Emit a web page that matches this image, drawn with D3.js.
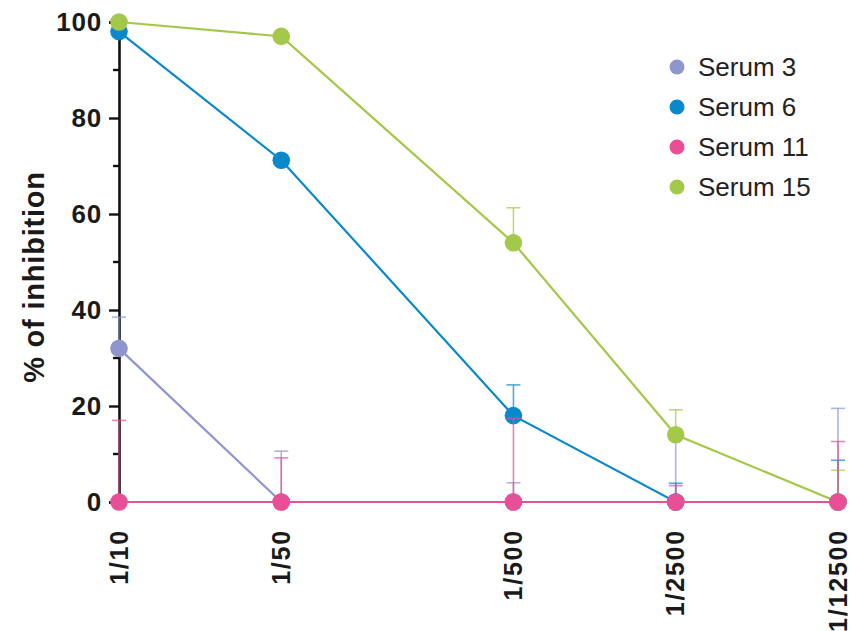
<!DOCTYPE html>
<html>
<head>
<meta charset="utf-8">
<script src="https://cdn.jsdelivr.net/npm/d3@7"></script>
<style>
  html, body { margin: 0; padding: 0; background: #fff; }
  svg { display: block; font-family: "Liberation Sans", Arial, Helvetica, sans-serif; }
</style>
</head>
<body>
<svg id="chart" width="852" height="631"></svg>
<script>
// Dilutions (reciprocal) and their labels
const dilutions = [10, 50, 500, 2500, 12500];
const dilutionLabels = ["1/10", "1/50", "1/500", "1/2500", "1/12500"];

// Series names and colours
const seriesNames = ["Serum 3", "Serum 6", "Serum 11", "Serum 15"];
const seriesColors = ["#8e95cf", "#0a88cc", "#e84f96", "#a4c84a"];

// Mean % inhibition per dilution
const serum3 = [32, 0, 0, 0, 0];
const serum6 = [98, 71.2, 18, 0, 0];
const serum11 = [0, 0, 0, 0, 0];
const serum15 = [100, 97, 54, 14, 0];

// Upper error (SD) per dilution
const serum3Err = [6.5, 10.6, 4.0, 13.5, 19.5];
const serum6Err = [0, 0, 6.4, 3.9, 8.7];
const serum11Err = [17, 9.2, 17.4, 3.4, 12.6];
const serum15Err = [0, 0, 7.3, 5.2, 6.6];

// Y axis ticks
const yMajorTicks = [0, 20, 40, 60, 80, 100];
const yMinorTicks = [10, 30, 50, 70, 90];

const series = [
  { name: seriesNames[0], color: seriesColors[0], values: serum3, err: serum3Err },
  { name: seriesNames[1], color: seriesColors[1], values: serum6, err: serum6Err },
  { name: seriesNames[2], color: seriesColors[2], values: serum11, err: serum11Err },
  { name: seriesNames[3], color: seriesColors[3], values: serum15, err: serum15Err }
];
// Paint order: the flat Serum 11 line sits on top
const drawOrder = [0, 1, 3, 2];

const svg = d3.select("#chart");

const x = d3.scaleLog().domain([10, 12500]).range([119, 838]);
const y = d3.scaleLinear().domain([0, 100]).range([502, 22]);

// Y axis
const yAxis = d3.axisLeft(y).tickValues(yMajorTicks).tickSize(10).tickPadding(7).tickFormat(d3.format("d"));
const gy = svg.append("g").attr("transform", `translate(${x(10)},0)`).call(yAxis);
gy.select(".domain").attr("stroke", "#111").attr("stroke-width", 2.6);
gy.selectAll(".tick line").attr("stroke", "#111").attr("stroke-width", 2.4);
gy.selectAll(".tick text")
  .attr("fill", "#1a1a1a")
  .style("font-size", "26px")
  .style("font-weight", "bold")
  .style("letter-spacing", "0.8px");
gy.selectAll(".minor")
  .data(yMinorTicks)
  .enter().append("line")
  .attr("class", "minor")
  .attr("x1", -6).attr("x2", 0)
  .attr("y1", d => y(d)).attr("y2", d => y(d))
  .attr("stroke", "#111").attr("stroke-width", 2.4);

// Y axis title
svg.append("text")
  .attr("transform", `translate(44,${277}) rotate(-90)`)
  .attr("text-anchor", "middle")
  .attr("fill", "#1a1a1a")
  .style("font-size", "29px")
  .style("font-weight", "bold")
  .style("letter-spacing", "0.8px")
  .text("% of inhibition");

// X tick labels (rotated)
svg.append("g").selectAll("text")
  .data(dilutions)
  .enter().append("text")
  .attr("transform", d => `translate(${x(d)},529) rotate(-90)`)
  .attr("text-anchor", "end")
  .attr("dy", "0.35em")
  .attr("fill", "#1a1a1a")
  .style("font-size", "25px")
  .style("font-weight", "bold")
  .style("letter-spacing", "1.8px")
  .text((d, i) => dilutionLabels[i]);

const line = d3.line()
  .x((d, i) => x(dilutions[i]))
  .y(d => y(d));

drawOrder.forEach(si => {
  const s = series[si];
  const g = svg.append("g");
  // Upper error bars
  const eb = g.selectAll(".err")
    .data(s.values.map((v, i) => ({ v, e: s.err[i], d: dilutions[i] })).filter(p => p.e > 0))
    .enter().append("g")
    .attr("stroke", s.color)
    .attr("stroke-opacity", 0.7)
    .attr("stroke-width", 1.6);
  eb.append("line")
    .attr("x1", p => x(p.d)).attr("x2", p => x(p.d))
    .attr("y1", p => y(p.v)).attr("y2", p => y(p.v + p.e));
  eb.append("line")
    .attr("x1", p => x(p.d) - 7).attr("x2", p => x(p.d) + 7)
    .attr("y1", p => y(p.v + p.e)).attr("y2", p => y(p.v + p.e));
  // Connecting line
  g.append("path")
    .datum(s.values)
    .attr("d", line)
    .attr("fill", "none")
    .attr("stroke", s.color)
    .attr("stroke-width", 2.2);
  // Points
  g.selectAll("circle")
    .data(s.values)
    .enter().append("circle")
    .attr("cx", (d, i) => x(dilutions[i]))
    .attr("cy", d => y(d))
    .attr("r", 8.8)
    .attr("fill", s.color);
});

// Legend
const legend = svg.append("g").attr("transform", "translate(677,67)");
const items = legend.selectAll("g")
  .data(series)
  .enter().append("g")
  .attr("transform", (d, i) => `translate(0,${i * 40})`);
items.append("circle").attr("r", 7.5).attr("fill", d => d.color);
items.append("text")
  .attr("x", 21)
  .attr("dy", "0.36em")
  .attr("fill", "#222")
  .style("font-size", "26px")
  .text(d => d.name);
</script>
</body>
</html>
